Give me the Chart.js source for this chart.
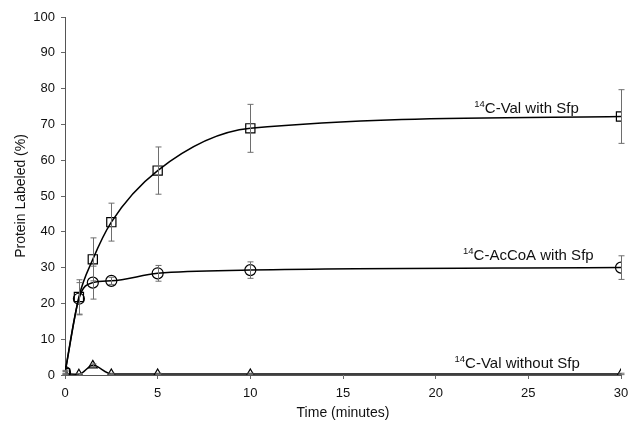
<!DOCTYPE html>
<html><head><meta charset="utf-8">
<script src="https://cdn.jsdelivr.net/npm/chart.js@4/dist/chart.umd.min.js"></script>
<style>html,body{margin:0;padding:0;background:#fff}#wrap{width:640px;height:438px}</style>
</head><body><div id="wrap"><canvas id="c" width="640" height="438"></canvas></div>
<script>
const times = [0, 0.75, 1.5, 2.5, 5, 10, 30];
const valWithSfp = [0.5, 21.8, 32.3, 42.7, 57.1, 68.9, 72.2];
const valWithSfpErr = [0.5, 4.8, 6.0, 5.3, 6.6, 6.7, 7.5];
const acCoAWithSfp = [0.8, 21.3, 25.8, 26.3, 28.4, 29.3, 30.0];
const acCoAWithSfpErr = [0.5, 4.5, 4.6, 1.0, 2.2, 2.3, 3.3];
const valWithoutSfp = [0.3, 0.2, 2.7, 0.3, 0.3, 0.3, 0.3];
const valWithoutSfpErr = [0.2, 0.2, 0.4, 0.2, 0.2, 0.2, 0.2];
const seriesLabels = ["C-Val with Sfp", "C-AcCoA with Sfp", "C-Val without Sfp"];
const labelAnchors = [[24.9, 74.6], [25.0, 33.5], [24.4, 3.4]];
const xTicks = [0, 5, 10, 15, 20, 25, 30];
const yTicks = [0, 10, 20, 30, 40, 50, 60, 70, 80, 90, 100];

const FONT = "'Liberation Sans', Arial, sans-serif";
const pts = (ys, errs) => times.map((t, i) => ({x: t, y: ys[i], e: errs[i]}));

const errorBars = {
  id: 'errorBars',
  afterDatasetsDraw(chart) {
    const {ctx, scales: {x, y}} = chart;
    ctx.save();
    ctx.strokeStyle = '#6e6e6e';
    ctx.lineWidth = 1;
    chart.data.datasets.forEach(ds => {
      ds.data.forEach(p => {
        const px = Math.round(x.getPixelForValue(p.x)) + 0.5;
        const yt = y.getPixelForValue(p.y + p.e);
        const yb = y.getPixelForValue(Math.max(0, p.y - p.e));
        ctx.beginPath();
        ctx.moveTo(px, yt); ctx.lineTo(px, yb);
        ctx.moveTo(px - 3, yt); ctx.lineTo(px + 3, yt);
        ctx.moveTo(px - 3, yb); ctx.lineTo(px + 3, yb);
        ctx.stroke();
      });
    });
    ctx.restore();
  }
};

const seriesText = {
  id: 'seriesText',
  afterDraw(chart) {
    const {ctx, scales: {x, y}} = chart;
    ctx.save();
    ctx.fillStyle = '#111';
    ctx.textBaseline = 'alphabetic';
    seriesLabels.forEach((txt, i) => {
      const cx = x.getPixelForValue(labelAnchors[i][0]);
      const cy = y.getPixelForValue(labelAnchors[i][1]);
      ctx.font = '9.5px ' + FONT;
      const w1 = ctx.measureText('14').width;
      ctx.font = '15px ' + FONT;
      const w2 = ctx.measureText(txt).width;
      const left = cx - (w1 + w2) / 2;
      ctx.font = '9.5px ' + FONT;
      ctx.fillText('14', left, cy - 1);
      ctx.font = '15px ' + FONT;
      ctx.fillText(txt, left + w1, cy + 5);
    });
    ctx.restore();
  }
};

function ds(data, style, radius) {
  return {
    data, showLine: true, cubicInterpolationMode: 'monotone',
    borderColor: '#000', borderWidth: 1.5,
    pointStyle: style, pointRadius: radius, pointHoverRadius: radius,
    pointBorderColor: '#000', pointBackgroundColor: 'rgba(0,0,0,0)', pointBorderWidth: 1.2
  };
}

new Chart(document.getElementById('c'), {
  type: 'scatter',
  data: {
    datasets: [
      ds(pts(valWithSfp, valWithSfpErr), 'rect', 6.5),
      ds(pts(acCoAWithSfp, acCoAWithSfpErr), 'circle', 5.5),
      ds(pts(valWithoutSfp, valWithoutSfpErr), 'triangle', 5)
    ]
  },
  options: {
    responsive: false, animation: false, devicePixelRatio: 1,
    layout: {padding: {top: 17, right: 19, left: 9, bottom: 12}},
    plugins: {legend: {display: false}, tooltip: {enabled: false}},
    scales: {
      x: {
        type: 'linear', min: 0, max: 30,
        afterBuildTicks: s => { s.ticks = xTicks.map(v => ({value: v})); },
        afterFit: s => { s.height = 51; },
        grid: {display: true, drawOnChartArea: false, drawTicks: true, tickLength: 4, color: '#666'},
        border: {display: true, color: '#555', width: 1},
        ticks: {color: '#111', font: {family: FONT, size: 13}, padding: 7, maxRotation: 0},
        title: {display: true, text: 'Time (minutes)', color: '#111', font: {family: FONT, size: 14}, padding: {top: 4}}
      },
      y: {
        min: 0, max: 100,
        afterBuildTicks: s => { s.ticks = yTicks.map(v => ({value: v})); },
        afterFit: s => { s.width = 56; },
        grid: {display: true, drawOnChartArea: false, drawTicks: true, tickLength: 4, color: '#666'},
        border: {display: true, color: '#555', width: 1},
        ticks: {color: '#111', font: {family: FONT, size: 13}, padding: 6},
        title: {display: true, text: 'Protein Labeled (%)', color: '#111', font: {family: FONT, size: 14}, padding: {bottom: 2}}
      }
    }
  },
  plugins: [errorBars, seriesText]
});
</script></body></html>
